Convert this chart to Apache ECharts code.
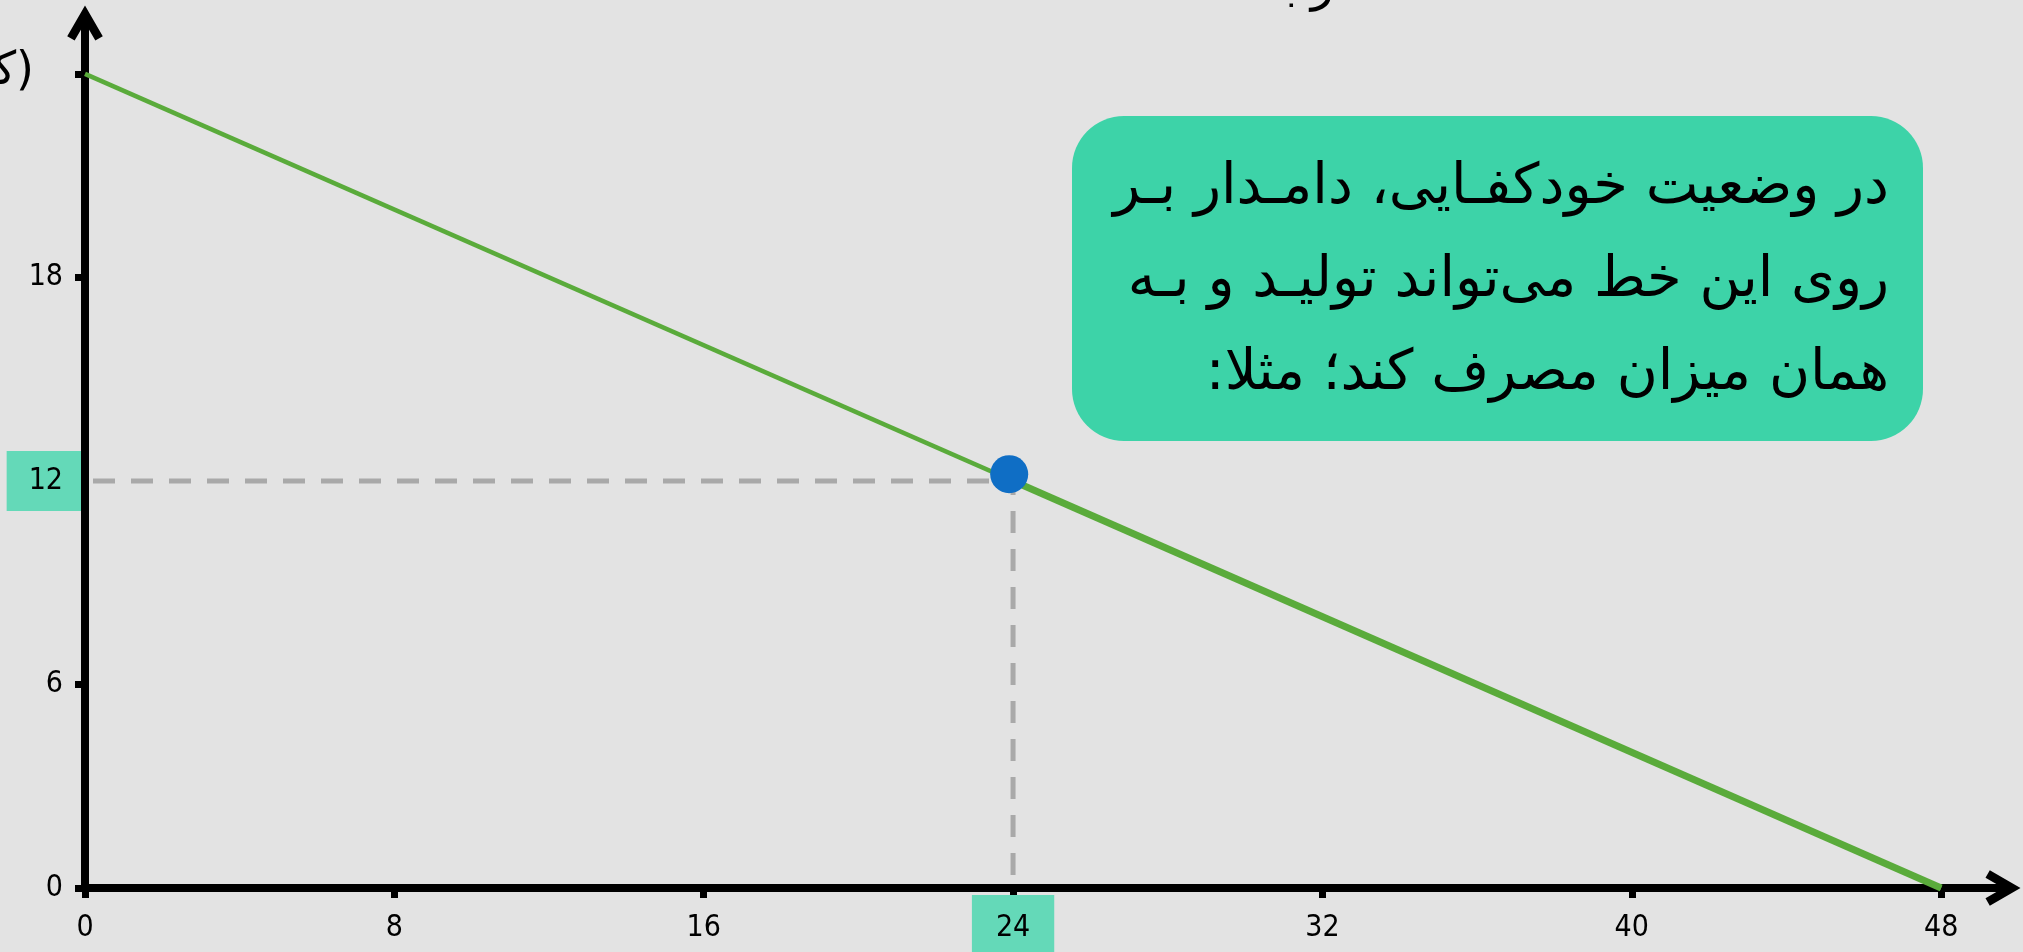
<!DOCTYPE html>
<html>
<head>
<meta charset="utf-8">
<script src="https://cdn.jsdelivr.net/npm/echarts@6/dist/echarts.min.js"></script>
<style>
html, body { margin: 0; padding: 0; background: #e3e3e3; }
#main { width: 2023px; height: 952px; }
</style>
</head>
<body>
<div id="main"></div>
<script>
// داده‌ها
var xTicks = [0, 8, 16, 24, 32, 40, 48]
var yTicks = [0, 6, 12, 18, 24]
var yLabels = [0, 6, 12, 18]
var budgetLine = [[0, 24], [48, 0]]
var budgetAfter = [[24, 12], [48, 0]]
var chosenPoint = [[23.9, 12.2]]
var guideH = [[0, 12], [24, 12]]
var guideV = [[24, 12], [24, 0]]
var markX = 24
var markY = 12
var noteLines = [
  'در وضعیت خودکفـایی، دامـدار بـر',
  'روی این خط می‌تواند تولیـد و بـه',
  'همان میزان مصرف کند؛ مثلا:'
]
var yName = '(کیلوگرم)'
var topTitle = 'رابطه'

var RLM = '\u200F'
var numFont = "'Liberation Sans Narrow', 'DejaVu Sans Condensed', sans-serif"
var faFont = "'DejaVu Sans', sans-serif"
// فلش باز (شبیه ^)
var arrow = 'path://M17,0 L33.5,28.5 L26.6,32.5 L17,16 L7.4,32.5 L0.5,28.5 Z'

var chart = echarts.init(document.getElementById('main'), null, { renderer: 'canvas' })

var noteText = []
for (var i = 0; i < noteLines.length; i++) {
  noteText.push({
    type: 'text',
    x: 1889,
    y: 188 + i * 93,
    z: 101,
    style: { text: RLM + noteLines[i] + RLM, font: '56px ' + faFont, fill: '#000', align: 'right', verticalAlign: 'middle' }
  })
}

var option = {
  backgroundColor: '#e3e3e3',
  animation: false,
  grid: { left: 85, right: 20, top: 23, bottom: 64, outerBoundsMode: 'none' },
  xAxis: {
    type: 'value',
    min: 0,
    max: 49.6,
    splitLine: { show: false },
    axisLine: { lineStyle: { color: '#000', width: 8 }, symbol: ['none', arrow], symbolSize: [36, 35] },
    axisTick: { customValues: xTicks, length: 10, lineStyle: { color: '#000', width: 7 } },
    axisLabel: {
      customValues: xTicks,
      margin: 25,
      formatter: function (v) { return v === markX ? '{hl|' + v + '}' : '{n|' + v + '}' },
      rich: {
        n: { fontFamily: numFont, fontSize: 30, lineHeight: 30, color: '#000' },
        hl: { fontFamily: numFont, fontSize: 30, lineHeight: 30, color: '#000', backgroundColor: '#64d9b8', padding: [18, 24, 18, 24] }
      }
    }
  },
  yAxis: {
    type: 'value',
    min: 0,
    max: 25.5,
    splitLine: { show: false },
    axisLine: { lineStyle: { color: '#000', width: 8 }, symbol: ['none', arrow], symbolSize: [36, 35] },
    axisTick: { customValues: yTicks, length: 10, lineStyle: { color: '#000', width: 7 } },
    axisLabel: {
      customValues: yLabels,
      margin: 4,
      formatter: function (v) { return v === markY ? '{hl|' + v + '}' : '{n|' + v + '}' },
      rich: {
        n: { fontFamily: numFont, fontSize: 30, lineHeight: 30, color: '#000', padding: [0, 18, 0, 0] },
        hl: { fontFamily: numFont, fontSize: 30, lineHeight: 30, color: '#000', backgroundColor: '#64d9b8', padding: [15, 18, 15, 22] }
      }
    }
  },
  series: [
    {
      type: 'line', data: guideH, symbol: 'none', silent: true, z: 3,
      lineStyle: { color: '#a9a9a9', width: 5, type: [22, 16], dashOffset: 30 }
    },
    {
      type: 'line', data: guideV, symbol: 'none', silent: true, z: 3,
      lineStyle: { color: '#a9a9a9', width: 5, type: [22, 16], dashOffset: 8 }
    },
    {
      type: 'line', data: budgetLine, symbol: 'none', z: 4,
      lineStyle: { color: '#5aab3b', width: 4.5 }
    },
    {
      type: 'line', data: budgetAfter, symbol: 'none', z: 4,
      lineStyle: { color: '#5aab3b', width: 7 }
    },
    {
      type: 'scatter', data: chosenPoint, symbolSize: 38, z: 5,
      itemStyle: { color: '#0f6ec5', opacity: 1 }
    }
  ],
  graphic: [
    {
      type: 'rect',
      z: 100,
      shape: { x: 1072, y: 116, width: 851, height: 325, r: 52 },
      style: { fill: '#3dd3a8' }
    },
    {
      type: 'text', x: 34, y: 72, z: 100,
      style: { text: RLM + yName + RLM, font: '46px ' + faFont, fill: '#000', align: 'right', verticalAlign: 'middle' }
    },
    {
      type: 'text', x: 1334, y: 12, z: 100,
      style: { text: RLM + topTitle + RLM, font: '48px ' + faFont, fill: '#000', align: 'right', verticalAlign: 'bottom' }
    }
  ].concat(noteText)
}

chart.setOption(option)
</script>
</body>
</html>
